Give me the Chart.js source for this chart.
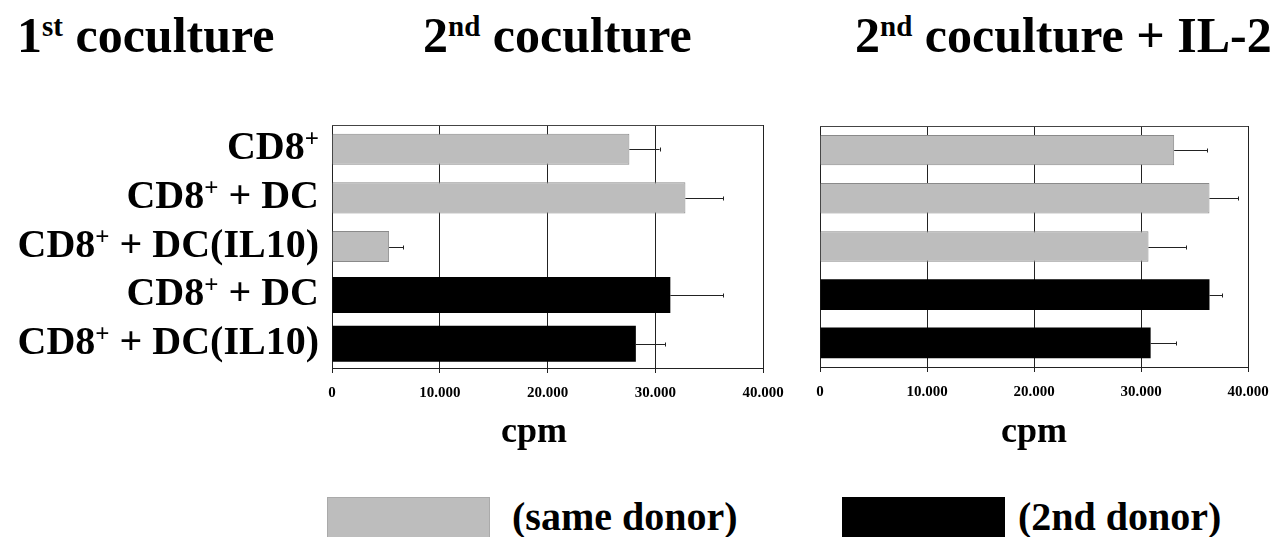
<!DOCTYPE html>
<html><head><meta charset="utf-8">
<script src="https://cdn.jsdelivr.net/npm/chart.js@4/dist/chart.umd.min.js"></script>
<style>
html,body{margin:0;padding:0;background:#fff;width:1279px;height:537px;overflow:hidden;position:relative;font-family:"Liberation Serif","Times New Roman",serif;font-weight:bold;color:#000}
.t{position:absolute;white-space:nowrap;font-size:50px;line-height:50px;top:10px}
.t sup{font-size:29px;vertical-align:baseline;position:relative;top:-16px}
.lg{position:absolute;white-space:nowrap;font-size:40px;line-height:40px;top:497px}
.box{position:absolute;top:497px;width:163px;height:45px}
canvas{position:absolute}
</style></head>
<body>
<div class="t" style="left:17px">1<sup>st</sup> coculture</div>
<div class="t" style="left:423px">2<sup>nd</sup> coculture</div>
<div class="t" style="left:855px">2<sup>nd</sup> coculture + IL-2</div>
<canvas id="c1" width="805" height="370" style="left:0;top:100px"></canvas>
<canvas id="c2" width="495" height="370" style="left:805px;top:100px"></canvas>
<div class="box" style="left:327px;background:#bdbdbd;box-sizing:border-box;border:1px solid #aaa"></div>
<div class="lg" style="left:512px">(same donor)</div>
<div class="box" style="left:842px;background:#000"></div>
<div class="lg" style="left:1018px">(2nd donor)</div>
<script>
const categories = ["CD8⁺", "CD8⁺ + DC", "CD8⁺ + DC(IL10)", "CD8⁺ + DC", "CD8⁺ + DC(IL10)"];
const seriesNames = ["(same donor)", "(2nd donor)"];
const tickValues = [0, 10000, 20000, 30000, 40000];
const tickLabels = ["0", "10.000", "20.000", "30.000", "40.000"];
const axisTitle = "cpm";

// 2nd coculture
const second_sameDonor = [27600, 32800, 5300, null, null];
const second_2ndDonor  = [null, null, null, 31400, 28200];
const second_error     = [2800, 3500, 1300, 4900, 2700];

// 2nd coculture + IL-2
const il2_sameDonor = [33100, 36400, 30700, null, null];
const il2_2ndDonor  = [null, null, null, 36400, 30900];
const il2_error     = [3100, 2700, 3500, 1200, 2400];

const FONT = "'Liberation Serif','Times New Roman',serif";
const GRID = '#222';

const labelPlugin = {
  id: 'suplabels',
  afterDraw(chart, args, opts) {
    if (!opts.show) return;
    const ctx = chart.ctx, y = chart.scales.y;
    ctx.save();
    ctx.fillStyle = '#000';
    ctx.textBaseline = 'alphabetic';
    ctx.textAlign = 'left';
    categories.forEach((lab, i) => {
      const parts = lab.split('⁺');
      const main = parts[0], rest = parts.slice(1).join('+');
      ctx.font = `bold 40px ${FONT}`;
      const w1 = ctx.measureText(main).width, w3 = ctx.measureText(rest).width;
      ctx.font = `bold 25px ${FONT}`;
      const w2 = ctx.measureText('+').width;
      const yy = y.getPixelForValue(i) + 10;
      let x = opts.right - (w1 + w2 + w3);
      ctx.font = `bold 40px ${FONT}`;
      ctx.fillText(main, x, yy);
      x += w1;
      ctx.font = `bold 25px ${FONT}`;
      ctx.fillText('+', x, yy - 12);
      x += w2;
      ctx.font = `bold 40px ${FONT}`;
      ctx.fillText(rest, x, yy);
    });
    ctx.restore();
  }
};

const errPlugin = {
  id: 'errbars',
  afterDatasetsDraw(chart, args, opts) {
    const ctx = chart.ctx, xs = chart.scales.x, ys = chart.scales.y;
    const d0 = chart.data.datasets[0].data, d1 = chart.data.datasets[1].data;
    ctx.save();
    ctx.strokeStyle = '#222';
    ctx.lineWidth = 1;
    opts.errors.forEach((e, i) => {
      const v = d0[i] != null ? d0[i] : d1[i];
      const x0 = xs.getPixelForValue(v), x1 = xs.getPixelForValue(v + e);
      const yy = Math.round(ys.getPixelForValue(i)) + 0.5;
      ctx.beginPath();
      ctx.moveTo(x0, yy); ctx.lineTo(x1, yy);
      ctx.moveTo(Math.round(x1) + 0.5, yy - 2); ctx.lineTo(Math.round(x1) + 0.5, yy + 2);
      ctx.stroke();
    });
    ctx.restore();
  }
};

const framePlugin = {
  id: 'frame',
  afterDraw(chart) {
    const {ctx, chartArea: a} = chart;
    ctx.save();
    ctx.strokeStyle = '#444';
    ctx.lineWidth = 1;
    ctx.beginPath();
    ctx.moveTo(a.left, Math.round(a.top) + 0.5);
    ctx.lineTo(a.right, Math.round(a.top) + 0.5);
    ctx.stroke();
    ctx.restore();
  }
};

function makeChart(id, same, other, errs, cfg) {
  return new Chart(document.getElementById(id), {
    type: 'bar',
    data: {
      labels: categories,
      datasets: [
        { label: seriesNames[0], data: same, backgroundColor: '#bdbdbd', borderColor: '#8a8a8a',
          borderWidth: 1, barPercentage: cfg.bp0, categoryPercentage: 1, grouped: false },
        { label: seriesNames[1], data: other, backgroundColor: '#000', borderColor: '#000',
          borderWidth: 0, barPercentage: cfg.bp1, categoryPercentage: 1, grouped: false }
      ]
    },
    options: {
      indexAxis: 'y',
      responsive: false,
      animation: false,
      devicePixelRatio: 1,
      layout: { padding: { top: cfg.top, left: 0, right: cfg.right, bottom: 0 } },
      plugins: {
        legend: { display: false },
        tooltip: { enabled: false },
        suplabels: { show: cfg.labels, right: 319 },
        errbars: { errors: errs }
      },
      scales: {
        y: {
          type: 'category',
          grid: { display: false },
          border: { display: true, color: GRID, width: 1 },
          ticks: { display: false },
          afterFit: s => { s.width = cfg.yWidth; s.paddingTop = 0; s.paddingBottom = 0; }
        },
        x: {
          min: 0, max: 40000,
          afterBuildTicks: s => { s.ticks = tickValues.map(v => ({ value: v })); },
          afterFit: s => { s.height = cfg.xHeight; s.paddingLeft = 0; s.paddingRight = 0; },
          grid: { color: GRID, lineWidth: 1, drawTicks: true, tickLength: 5, tickColor: GRID },
          border: { display: true, color: GRID, width: 1 },
          ticks: {
            autoSkip: false, maxRotation: 0, padding: 11, color: '#000',
            font: { family: FONT, size: 15, weight: 'bold' },
            callback: (v, i) => tickLabels[i]
          },
          title: {
            display: true, text: axisTitle + cfg.titlePad, color: '#000',
            font: { family: FONT, size: 36, weight: 'bold' },
            padding: { top: 0, bottom: 16 }
          }
        }
      }
    },
    plugins: [labelPlugin, errPlugin, framePlugin]
  });
}

makeChart('c1', second_sameDonor, second_2ndDonor, second_error,
  { top: 25, right: 42, yWidth: 332, xHeight: 102, bp0: 0.64, bp1: 0.74, labels: true, titlePad: '   ' });
makeChart('c2', il2_sameDonor, il2_2ndDonor, il2_error,
  { top: 26, right: 52, yWidth: 15, xHeight: 103, bp0: 0.63, bp1: 0.64, labels: false, titlePad: '' });
</script>
</body></html>
